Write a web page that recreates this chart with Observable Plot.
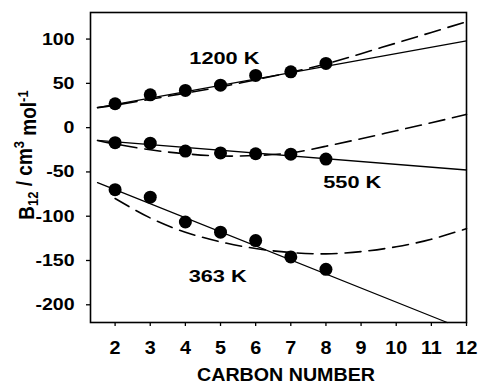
<!DOCTYPE html>
<html>
<head>
<meta charset="utf-8">
<script src="https://cdn.jsdelivr.net/npm/d3@7"></script>
<script src="https://cdn.jsdelivr.net/npm/@observablehq/plot@0.6"></script>
<style>
  html, body { margin: 0; padding: 0; background: white; }
  #chart svg { display: block; }
</style>
</head>
<body>
<div id="chart"></div>
<script>
// Measured points (carbon number vs B12)
const carbon = [2, 3, 4, 5, 6, 7, 8];
const b1200 = [27, 37, 42, 48, 59, 63, 72.5];
const b550 = [-17, -17.5, -26.5, -28.5, -29.5, -30, -35.5];
const b363 = [-70, -78.5, -106.5, -118, -127.5, -146, -160];

// Solid (linear fit) lines
const solidX = [1.5, 12];
const solid1200 = [22.6, 98];
const solid550 = [-14.3, -47.8];
const solid363X = [1.5, 11.45];
const solid363 = [-62, -220];

// Dashed (model) curves
const dashX = [1.5, 2, 3, 4, 5, 6, 7, 8, 9, 10, 11, 12];
const dash1200 = [22.6, 25.5, 32, 39, 46, 54, 62.5, 72, 83.5, 95.5, 107.5, 119.6];
const dash550 = [-14.5, -18.5, -25, -29.5, -32, -31.5, -28.5, -21, -12.5, -3.5, 5.5, 15];
const dash363X = [2, 3, 4, 5, 6, 7, 8, 9, 10, 11, 12];
const dash363 = [-80, -102, -118, -129, -136.5, -141, -142.5, -140, -134.5, -126, -114];

// Annotations
const labelText = ["1200 K", "550 K", "363 K"];
const labelX = [5.11, 8.75, 4.92];
const labelY = [77.7, -62.5, -168];

const xTicks = [2, 3, 4, 5, 6, 7, 8, 9, 10, 11, 12];
const yTicks = [-200, -150, -100, -50, 0, 50, 100];

const pts = [];
carbon.forEach((c, i) => {
  pts.push({x: c, y: b1200[i]});
  pts.push({x: c, y: b550[i]});
  pts.push({x: c, y: b363[i]});
});
const solids = [
  ...solidX.map((x, i) => ({s: "1200", x, y: solid1200[i]})),
  ...solidX.map((x, i) => ({s: "550", x, y: solid550[i]})),
  ...solid363X.map((x, i) => ({s: "363", x, y: solid363[i]}))
];
const dashes = [
  ...dashX.map((x, i) => ({s: "1200", x, y: dash1200[i]})),
  ...dashX.map((x, i) => ({s: "550", x, y: dash550[i]})),
  ...dash363X.map((x, i) => ({s: "363", x, y: dash363[i]}))
];
const labels = labelText.map((t, i) => ({t, x: labelX[i], y: labelY[i]}));

const svg = Plot.plot({
  width: 479,
  height: 385,
  marginLeft: 90,
  marginRight: 13,
  marginTop: 12,
  marginBottom: 63,
  x: {domain: [1.3, 12]},
  y: {domain: [-220, 130]},
  style: {fontFamily: "'Liberation Sans', Arial, sans-serif", fontWeight: "bold", background: "white", color: "black"},
  marks: [
    Plot.axisX({ticks: xTicks, tickSize: 4, tickPadding: 15, fontSize: 18, label: null, tickFormat: d => String(d), strokeWidth: 1.3}),
    Plot.axisY({ticks: yTicks, tickSize: 4, tickPadding: 12, fontSize: 17, label: null, tickFormat: d => String(d), strokeWidth: 1.3}),
    Plot.line(dashes, {x: "x", y: "y", z: "s", curve: "natural", stroke: "black", strokeWidth: 1.6, strokeDasharray: "16,8"}),
    Plot.line(solids, {x: "x", y: "y", z: "s", stroke: "black", strokeWidth: 1.3}),
    Plot.dot(pts, {x: "x", y: "y", r: 6.5, fill: "black", stroke: "none"}),
    Plot.text(labels, {x: "x", y: "y", text: "t", fontSize: 17, fill: "black", lineAnchor: "middle"}),
    Plot.frame({stroke: "black", strokeWidth: 1.6})
  ]
});
document.getElementById("chart").append(svg);

const s = d3.select(svg);
function stretch(sel, f) {
  sel.each(function () {
    const L = this.getComputedTextLength();
    this.setAttribute("textLength", (L * f).toFixed(1));
    this.setAttribute("lengthAdjust", "spacingAndGlyphs");
  });
}
stretch(s.selectAll('[aria-label="y-axis tick label"] text'), 1.15);
stretch(s.selectAll('[aria-label="x-axis tick label"] text'), 1.1);
stretch(s.selectAll('[aria-label="text"] text'), 1.28);

// x-axis title
const xt = s.append("text")
  .attr("x", 286).attr("y", 381)
  .attr("text-anchor", "middle")
  .attr("font-size", 18)
  .attr("font-weight", "bold")
  .attr("fill", "black")
  .text("CARBON NUMBER");
xt.attr("textLength", 178).attr("lengthAdjust", "spacingAndGlyphs");

// y-axis title with sub/superscripts
const yt = s.append("text")
  .attr("transform", "translate(34,155) rotate(-90) scale(1,1.12)")
  .attr("text-anchor", "middle")
  .attr("font-size", 19)
  .attr("font-weight", "bold")
  .attr("fill", "black");
yt.append("tspan").text("B");
yt.append("tspan").attr("font-size", 13).attr("dy", "0.3em").text("12");
yt.append("tspan").attr("dy", "-0.3em").text(" / cm");
yt.append("tspan").attr("font-size", 13).attr("dy", "-0.55em").text("3");
yt.append("tspan").attr("dy", "0.55em").text(" mol");
yt.append("tspan").attr("font-size", 13).attr("dy", "-0.55em").text("-1");
</script>
</body>
</html>
